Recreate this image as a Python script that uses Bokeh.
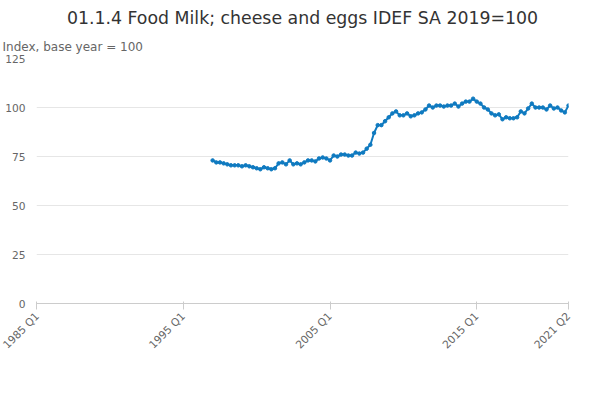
from bokeh.plotting import figure
from bokeh.models import ColumnDataSource, FixedTicker, Legend, LegendItem, Title
from bokeh.embed import file_html
from bokeh.resources import INLINE
import math

start_year = 1997
values = [73,72,72,71.5, 71,70.5,70.5,70.5, 70,70.5,70,69.5, 69,68.5,69.5,69,
          68.5,69,71.5,72, 71,73,71,71.5, 71,72,73,73, 72.5,74,74.5,74,
          73,75.5,75,76, 76,75.5,75.5,77, 76.5,77,79,81, 87,91,91,93,
          95,97,98,96, 96,97,95.5,96, 97,97.5,99,101, 100,101,101,100.5,
          101,101,102,100.5, 102,103,103,104.5, 103,102,100,99, 97,96,96.5,94,
          95,94.5,94.5,95, 98,97,99.5,102, 100,100,100,99, 101,99.5,100,98.5,
          97.5,101]
xs = [start_year + i/4 for i in range(len(values))]
tick_pos = [1985, 1995, 2005, 2015, 2021.25]
tick_labels = ["1985 Q1", "1995 Q1", "2005 Q1", "2015 Q1", "2021 Q2"]
series_name = "01.1.4 Food Milk; cheese and eggs IDEF SA 2019=100"

src = ColumnDataSource(dict(x=xs, y=values))
p = figure(frame_width=532, frame_height=245, output_backend="svg", toolbar_location=None,
           x_range=(1985, 2021.25), y_range=(0, 125), min_border_left=36, min_border_right=14,
           min_border_top=0, min_border_bottom=0)
p.title.text = "01.1.4 Food Milk; cheese and eggs IDEF SA 2019=100"
p.title.align = "center"
p.title.text_font_size = "13pt"
p.title.text_font_style = "normal"
p.title.text_font = "DejaVu Sans"
p.title.text_color = "#333333"
p.add_layout(Title(text="Index, base year = 100", text_font_size="9pt", text_color="#666666",
                   text_font_style="normal", text_font="DejaVu Sans", offset=-34), "above")
l = p.line("x", "y", source=src, line_color="#0f7ac0", line_width=2)
c = p.scatter("x", "y", source=src, size=3.5, color="#0f7ac0")
p.xaxis.ticker = FixedTicker(ticks=tick_pos)
p.xaxis.major_label_overrides = dict(zip(tick_pos, tick_labels))
p.xaxis.major_label_orientation = math.pi/4
p.yaxis.ticker = FixedTicker(ticks=[0,25,50,75,100,125])
for ax in (p.xaxis, p.yaxis):
    ax.major_label_text_color = "#666666"
    ax.major_label_text_font_size = "8pt"
    ax.major_label_text_font = "DejaVu Sans"
p.yaxis.axis_line_color = None
p.yaxis.major_tick_line_color = None
p.yaxis.minor_tick_line_color = None
p.xaxis.minor_tick_line_color = None
p.xaxis.axis_line_color = "#cccccc"
p.xaxis.major_tick_line_color = "#cccccc"
p.xgrid.grid_line_color = None
p.ygrid.grid_line_color = "#e6e6e6"
p.outline_line_color = None
leg = Legend(items=[LegendItem(label=series_name, renderers=[l, c])], location="top_center",
             orientation="horizontal", label_text_font_size="9pt", label_text_font_style="bold",
             label_text_font="DejaVu Sans", border_line_color=None, label_text_color="#333333",
             padding=2, margin=4)
p.add_layout(leg, "below")
p.add_layout(Title(text="Source:", align="right", text_font_size="9pt", text_color="#666666",
                   text_font_style="normal", text_font="DejaVu Sans"), "below")
open("out.html", "w").write(file_html(p, INLINE))
